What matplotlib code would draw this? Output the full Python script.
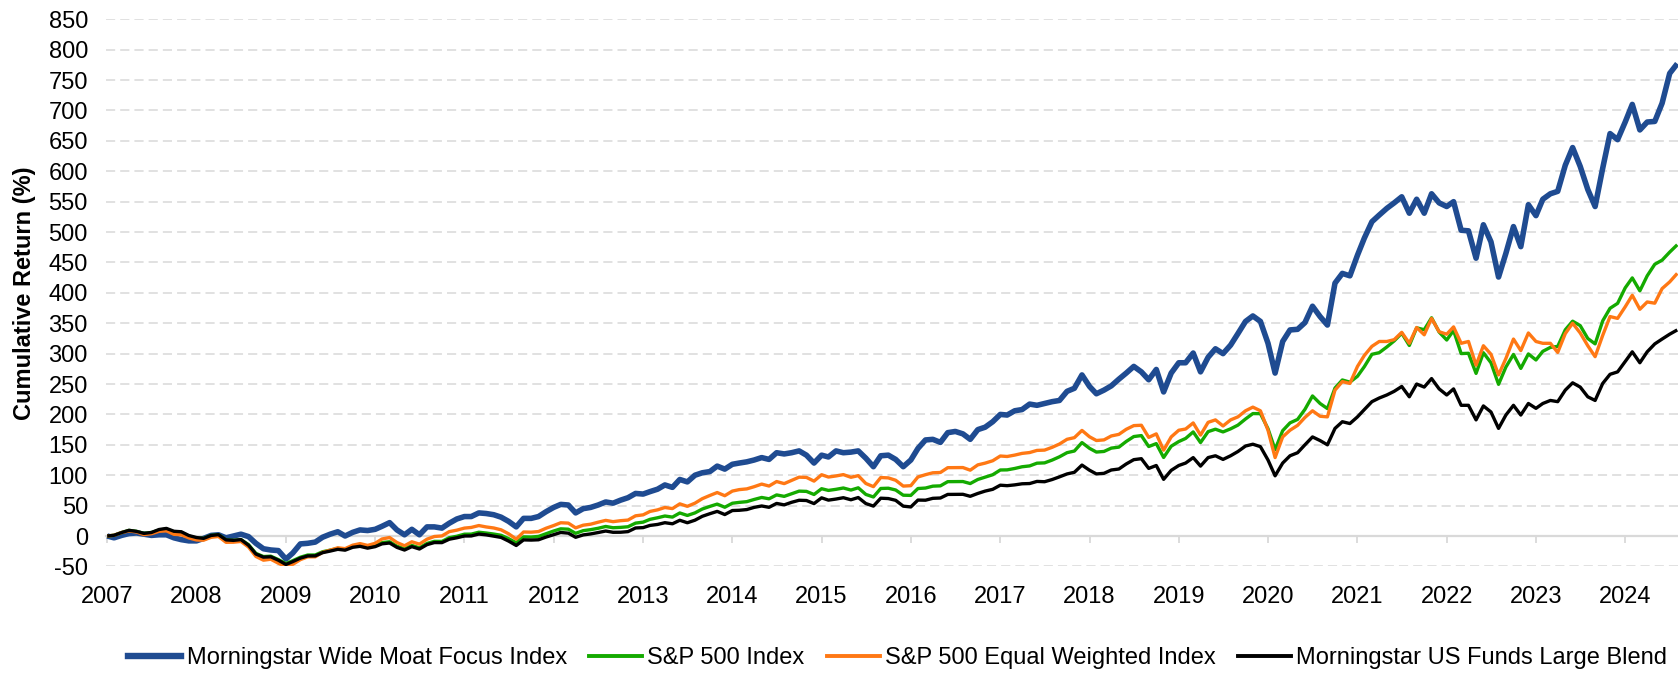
import matplotlib
matplotlib.use("Agg")
import matplotlib.pyplot as plt
import numpy as np
import pandas as pd
from matplotlib.lines import Line2D

plt.rcParams['font.family'] = ['Liberation Sans', 'DejaVu Sans']
plt.rcParams['axes.unicode_minus'] = False

# ---- data (monthly, Feb 2007 .. Sep 2024) ----
dates = pd.date_range('2007-02-01', periods=212, freq='MS')
years = ['2007', '2008', '2009', '2010', '2011', '2012', '2013', '2014', '2015',
         '2016', '2017', '2018', '2019', '2020', '2021', '2022', '2023', '2024']

series_names = ['Morningstar Wide Moat Focus Index', 'S&P 500 Index',
                'S&P 500 Equal Weighted Index', 'Morningstar US Funds Large Blend']

wide_moat = [
    0, -3, 1, 4, 5, 3, 1, 2, 2, -3, -6, -8,
    -8, -4, 1, 2, -3, 0, 3, -1, -12, -21, -23, -24,
    -38, -28, -13, -12, -10, -2, 3, 7, 0, 6, 10, 9,
    11, 16, 22, 10, 2, 11, 2, 15, 15, 13, 21, 28,
    32, 32, 38, 37, 35, 31, 24, 15, 29, 29, 32, 40,
    47, 52, 51, 38, 45, 47, 51, 56, 54, 59, 63, 70,
    69, 73, 77, 84, 80, 93, 89, 100, 104, 106, 115, 110,
    118, 120, 122, 125, 129, 126, 137, 135, 137, 140, 133, 120,
    133, 130, 140, 137, 138, 140, 128, 114, 132, 133, 126, 114,
    125, 144, 158, 159, 154, 170, 172, 168, 159, 175, 179, 188,
    200, 199, 206, 208, 217, 215, 218, 221, 223, 238, 243, 265,
    246, 234, 240, 247, 258, 268, 279, 270, 257, 274, 237, 268,
    285, 285, 301, 270, 294, 308, 300, 314, 333, 353, 362, 353,
    317, 268, 320, 339, 340, 351, 378, 361, 347, 416, 432, 428,
    462, 490, 517, 528, 539, 548, 558, 531, 554, 531, 563, 548,
    542, 550, 503, 502, 457, 512, 484, 426, 465, 509, 476, 545,
    527, 554, 563, 567, 610, 639, 608, 570, 542, 605, 662, 652,
    681, 710, 668, 681, 682, 712, 761, 777,
]

sp500 = [
    0, 1.2, 5.7, 9.3, 7.6, 4.3, 5.8, 9.7, 11.5, 6.8, 6.0, -0.2,
    -3.5, -3.9, 0.9, 2.2, -6.4, -7.2, -5.9, -14.2, -28.6, -33.8, -33.2, -38.8,
    -45.4, -40.6, -34.9, -31.3, -31.2, -25.9, -23.3, -20.4, -21.8, -17.1, -15.5, -18.5,
    -16.0, -10.9, -9.5, -16.7, -21.1, -15.5, -19.4, -12.2, -8.8, -8.9, -2.8, -0.4,
    3.0, 3.1, 6.2, 4.9, 3.2, 1.2, -4.4, -11.1, -1.4, -1.7, -0.7, 3.8,
    8.2, 11.8, 11.2, 4.4, 8.8, 10.4, 12.7, 15.7, 13.6, 14.2, 15.2, 21.2,
    22.8, 27.4, 30.0, 32.9, 31.1, 37.9, 33.8, 38.0, 44.4, 48.7, 52.5, 47.3,
    53.9, 55.3, 56.5, 60.1, 63.4, 61.2, 67.6, 65.2, 69.4, 73.8, 73.4, 68.3,
    77.8, 75.0, 76.8, 79.0, 75.6, 79.3, 68.4, 64.2, 78.2, 78.6, 75.7, 67.1,
    66.8, 78.1, 78.9, 82.0, 82.5, 89.4, 89.5, 89.6, 86.3, 93.0, 96.9, 100.8,
    108.6, 108.8, 111.1, 113.9, 115.3, 119.8, 120.3, 124.9, 130.3, 137.1, 139.8, 153.7,
    144.2, 138.1, 139.1, 144.6, 146.2, 155.5, 163.6, 165.2, 147.2, 152.0, 129.2, 147.7,
    155.4, 160.5, 171.2, 153.7, 171.7, 175.7, 171.2, 176.3, 182.4, 192.5, 201.4, 201.3,
    176.4, 142.2, 173.3, 186.1, 191.8, 208.3, 230.4, 218.0, 209.6, 243.4, 256.7, 253.1,
    262.8, 278.6, 298.9, 301.6, 311.0, 320.9, 333.6, 313.4, 342.5, 339.3, 359.0, 335.5,
    322.4, 338.1, 300.1, 300.6, 267.5, 301.5, 285.0, 249.5, 277.9, 298.7, 275.7, 299.5,
    289.6, 303.8, 310.3, 311.9, 339.2, 353.4, 346.1, 324.9, 316.1, 353.9, 374.6, 382.7,
    408.2, 424.6, 403.3, 428.0, 447.0, 453.8, 467.0, 479.1,
]

sp500_equal = [
    0, 1.2, 5.7, 8.3, 6.6, 2.3, 3.8, 7.7, 8.5, 2.8, 2.0, -3.2,
    -6.5, -6.9, -2.1, -0.8, -10.4, -10.2, -8.9, -18.2, -33.6, -39.8, -38.2, -44.8,
    -50.4, -46.6, -38.9, -34.3, -34.2, -26.9, -23.3, -19.4, -20.8, -15.1, -12.5, -15.5,
    -12.0, -4.9, -2.5, -10.7, -16.1, -9.5, -13.4, -5.2, -0.8, 0.1, 7.2, 9.6,
    13.0, 14.1, 17.2, 14.9, 13.2, 10.2, 3.6, -5.1, 6.6, 6.3, 7.3, 12.8,
    17.2, 21.8, 21.2, 13.4, 17.8, 19.4, 22.7, 25.7, 23.6, 25.2, 26.2, 33.2,
    34.8, 40.4, 43.0, 46.9, 45.1, 52.9, 48.8, 54.0, 61.4, 66.7, 71.5, 66.3,
    73.9, 76.3, 77.5, 81.1, 85.4, 82.2, 89.6, 86.2, 91.4, 96.8, 96.4, 90.3,
    100.8, 97.0, 98.8, 101.0, 96.6, 99.3, 86.4, 81.2, 96.2, 95.6, 91.7, 82.1,
    82.8, 97.1, 100.9, 104.0, 104.5, 112.4, 112.5, 112.6, 108.3, 117.0, 119.9, 123.8,
    131.6, 130.8, 133.1, 135.9, 137.3, 140.8, 141.3, 145.9, 151.3, 159.1, 161.8, 173.7,
    163.2, 157.1, 158.1, 164.6, 167.2, 175.5, 181.6, 182.2, 162.2, 168.0, 141.2, 163,
    174, 176, 186, 166, 187, 191, 181, 191, 196, 206, 212, 206,
    174, 129, 163, 174, 182, 195, 206, 197, 196, 240, 254, 251,
    279, 297, 312, 320, 320, 323, 335, 317, 343, 331, 358, 336,
    332, 344, 317, 320, 281, 313, 299, 265, 292, 324, 305, 334,
    320, 317, 317, 302, 333, 350, 334, 313, 295, 330, 361, 358,
    377, 396, 373, 385, 383, 407, 418, 432,
]

large_blend = [
    0, 1.2, 5.7, 9.3, 7.6, 4.3, 5.8, 10.7, 12.5, 7.8, 7.0, 0.8,
    -2.5, -3.9, 0.9, 2.2, -6.4, -7.2, -5.9, -15.2, -29.6, -34.8, -34.2, -39.8,
    -46.9, -42.1, -36.4, -32.8, -32.7, -27.4, -24.8, -21.9, -23.3, -18.6, -17.0, -20.0,
    -17.5, -12.9, -11.5, -18.7, -23.1, -17.5, -21.4, -14.2, -10.8, -10.9, -5.3, -2.9,
    0.0, 0.1, 3.2, 1.9, -0.3, -2.3, -8.4, -15.6, -6.4, -6.7, -6.2, -1.7,
    2.2, 5.8, 4.7, -2.1, 1.8, 3.4, 5.7, 8.2, 6.1, 6.2, 7.2, 13.2,
    13.8, 17.4, 19.0, 21.9, 20.1, 25.9, 21.8, 26.0, 32.4, 36.7, 40.5, 35.3,
    41.9, 42.3, 43.5, 47.1, 49.4, 47.2, 53.6, 51.2, 55.4, 58.8, 58.4, 53.3,
    62.8, 59.0, 60.8, 63.0, 59.6, 63.3, 53.4, 49.2, 62.2, 61.6, 58.7, 49.1,
    47.8, 59.1, 58.9, 62.0, 62.5, 68.4, 68.5, 68.6, 65.3, 70.0, 73.9, 76.8,
    83.6, 82.8, 84.1, 85.9, 86.3, 89.8, 89.3, 92.9, 97.3, 102.1, 104.8, 116.7,
    108.2, 102.1, 103.1, 108.6, 110.2, 118.5, 125.6, 127.2, 111.2, 116.0, 93.2, 108,
    116, 120, 129, 115, 129, 132, 126, 132, 139, 148, 151, 147,
    125, 99, 120, 132, 137, 150, 163, 157, 150, 177, 188, 185,
    196, 208, 221, 227, 232, 238, 246, 229, 250, 245, 259, 242,
    232, 242, 215, 215, 191, 214, 204, 177, 199, 215, 199, 218,
    210, 218, 223, 221, 240, 252, 245, 229, 223, 251, 266, 270,
    287, 303, 285, 303, 316, 324, 332, 339,
]

y_ticks = list(range(-50, 851, 50))

# ---- styling ----
colors = ['#1F4B91', '#14AA00', '#FF7814', '#000000']
widths = [4.0, 2.4, 2.4, 2.4]
grid_color = '#D9D9D9'
FS = 17

fig = plt.figure(figsize=(16.78, 6.73), dpi=100)
ax = fig.add_axes([106 / 1678, 1 - 566.4 / 673, 1 - 106 / 1678, (566.4 - 19.3) / 673])

all_series = [wide_moat, sp500, sp500_equal, large_blend]
handles = []
for i, (vals, name) in enumerate(zip(all_series, series_names)):
    ax.plot(dates, vals, color=colors[i], lw=widths[i], solid_joinstyle='round',
            solid_capstyle='butt', zorder=3 + i, label=name)
    handles.append(Line2D([0], [0], color=colors[i], lw=widths[i] + (0.6 if i == 0 else 0.4)))

ax.set_ylim(-50, 850)
ax.set_xlim(dates[0] - pd.Timedelta(days=5), dates[-1] + pd.Timedelta(days=3))

ax.set_yticks(y_ticks)
ax.set_yticklabels([str(v) for v in y_ticks], fontsize=FS)
ax.yaxis.grid(True, color=grid_color, linestyle=(0, (6, 3.3)), linewidth=1.1)
ax.set_axisbelow(True)
ax.tick_params(axis='y', length=0, pad=13)

tick_pos = dates[::12]
ax.set_xticks(tick_pos)
ax.set_xticklabels(years, fontsize=FS)
ax.tick_params(axis='x', length=0, pad=14)

for s in ax.spines.values():
    s.set_visible(False)

# horizontal axis line at zero with tick marks
try:
    sec = ax.secondary_xaxis(0, transform=ax.transData)
    sec.set_xticks(tick_pos)
    sec.set_xticklabels([])
    sec.tick_params(axis='x', direction='out', length=5, width=1.3, color=grid_color)
    for k, s in sec.spines.items():
        if k == 'bottom':
            s.set_color(grid_color)
            s.set_linewidth(1.6)
            s.set_zorder(2)
        else:
            s.set_visible(False)
except Exception:
    ax.axhline(0, color=grid_color, lw=1.6, zorder=2)

ax.set_ylabel('Cumulative Return (%)', fontsize=FS, fontweight='bold')
ax.yaxis.set_label_coords(-0.0445, 0.5)

fig.legend(handles, series_names, loc='center', bbox_to_anchor=(0.535, 1 - 658 / 673),
           ncol=4, frameon=False, fontsize=FS, handlelength=2.25, handletextpad=0.23,
           columnspacing=0.93, borderpad=0, borderaxespad=0)

fig.savefig('out.png', dpi=100)
